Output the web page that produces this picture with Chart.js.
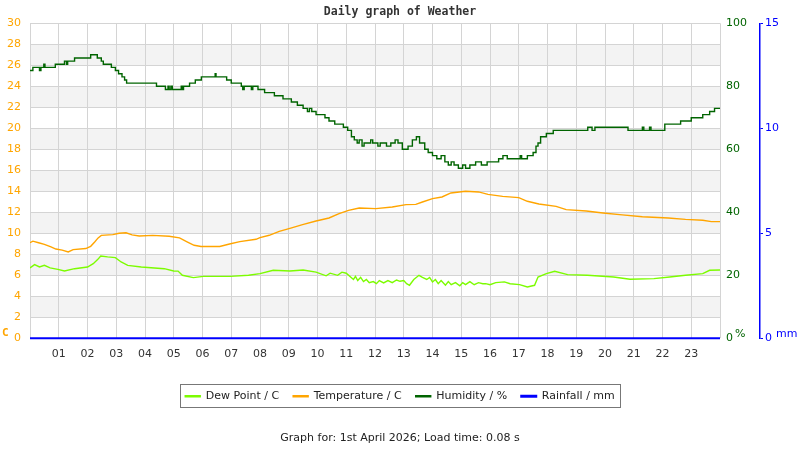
<!DOCTYPE html>
<html>
<head>
<meta charset="utf-8">
<script src="https://cdn.jsdelivr.net/npm/chart.js@4.4.1/dist/chart.umd.min.js"></script>
<style>
html, body { margin: 0; padding: 0; background: #fff; }
</style>
</head>
<body>
<canvas id="myChart" width="800" height="450"></canvas>
<script>
// readings, hours since midnight
var hum_hours = [0.00, 0.10, 0.33, 0.38, 0.48, 0.52, 0.88, 1.20, 1.27, 1.31, 1.55, 2.11, 2.34, 2.48, 2.55, 2.83, 2.97, 3.08, 3.20, 3.29, 3.36, 4.40, 4.71, 4.80, 4.84, 4.90, 4.95, 5.26, 5.30, 5.34, 5.55, 5.75, 5.96, 6.44, 6.47, 6.84, 7.00, 7.35, 7.40, 7.45, 7.70, 7.75, 7.93, 8.16, 8.50, 8.80, 9.09, 9.30, 9.50, 9.65, 9.72, 9.80, 9.95, 10.26, 10.40, 10.60, 10.90, 11.05, 11.18, 11.28, 11.38, 11.45, 11.55, 11.62, 11.85, 11.92, 12.10, 12.18, 12.40, 12.55, 12.70, 12.80, 12.95, 13.15, 13.30, 13.44, 13.55, 13.73, 13.85, 14.00, 14.15, 14.30, 14.43, 14.55, 14.65, 14.75, 14.90, 15.05, 15.15, 15.30, 15.50, 15.70, 15.90, 16.30, 16.45, 16.60, 17.05, 17.10, 17.30, 17.50, 17.60, 17.67, 17.76, 17.96, 18.20, 19.40, 19.55, 19.65, 20.80, 21.30, 21.35, 21.55, 21.60, 22.08, 22.63, 23.00, 23.40, 23.64, 23.81, 24.00];
var hum_values = [85, 86, 85, 86, 87, 86, 87, 88, 87, 88, 89, 90, 89, 88, 87, 86, 85, 84, 83, 82, 81, 80, 79, 80, 79, 80, 79, 80, 79, 80, 81, 82, 83, 84, 83, 82, 81, 80, 79, 80, 79, 80, 79, 78, 77, 76, 75, 74, 73, 72, 73, 72, 71, 70, 69, 68, 67, 66, 64, 63, 62, 63, 61, 62, 63, 62, 61, 62, 61, 62, 63, 62, 60, 61, 63, 64, 62, 60, 59, 58, 57, 58, 56, 55, 56, 55, 54, 55, 54, 55, 56, 55, 56, 57, 58, 57, 58, 57, 58, 59, 61, 62, 64, 65, 66, 67, 66, 67, 66, 67, 66, 67, 66, 68, 69, 70, 71, 72, 73, 73];

var temp_hours = [0.00, 0.10, 0.30, 0.50, 0.73, 0.90, 1.12, 1.33, 1.50, 1.94, 2.11, 2.25, 2.37, 2.48, 2.88, 3.10, 3.34, 3.55, 3.80, 4.27, 4.84, 5.20, 5.48, 5.71, 5.95, 6.60, 6.94, 7.30, 7.86, 8.00, 8.32, 8.67, 9.07, 9.48, 9.95, 10.40, 10.75, 11.08, 11.45, 12.03, 12.60, 13.08, 13.42, 13.65, 14.00, 14.33, 14.64, 15.15, 15.60, 15.93, 16.44, 17.00, 17.30, 17.70, 18.30, 18.65, 19.35, 19.93, 20.60, 21.30, 22.20, 22.80, 23.40, 23.70, 24.00];
var temp_values = [9.1, 9.25, 9.1, 8.95, 8.7, 8.5, 8.4, 8.22, 8.45, 8.55, 8.76, 9.17, 9.56, 9.8, 9.87, 10.0, 10.05, 9.85, 9.75, 9.8, 9.72, 9.56, 9.17, 8.86, 8.75, 8.75, 8.98, 9.21, 9.43, 9.59, 9.81, 10.19, 10.5, 10.83, 11.17, 11.46, 11.87, 12.19, 12.41, 12.35, 12.51, 12.73, 12.75, 12.98, 13.3, 13.46, 13.84, 14.0, 13.94, 13.71, 13.52, 13.4, 13.05, 12.79, 12.57, 12.25, 12.13, 11.94, 11.75, 11.58, 11.46, 11.33, 11.24, 11.11, 11.11];

var dew_hours = [0.00, 0.16, 0.33, 0.50, 0.70, 0.97, 1.20, 1.55, 2.00, 2.20, 2.36, 2.46, 2.70, 2.97, 3.17, 3.40, 3.87, 4.67, 5.00, 5.15, 5.30, 5.68, 6.03, 6.96, 7.60, 8.00, 8.46, 9.04, 9.50, 9.95, 10.30, 10.44, 10.70, 10.85, 11.00, 11.25, 11.32, 11.40, 11.50, 11.60, 11.70, 11.80, 11.94, 12.05, 12.15, 12.30, 12.45, 12.60, 12.75, 12.87, 13.00, 13.10, 13.20, 13.35, 13.53, 13.65, 13.80, 13.90, 14.00, 14.10, 14.20, 14.30, 14.45, 14.55, 14.65, 14.80, 14.95, 15.05, 15.15, 15.30, 15.45, 15.60, 15.75, 15.85, 16.00, 16.20, 16.50, 16.70, 17.03, 17.30, 17.55, 17.67, 17.96, 18.25, 18.70, 19.39, 20.30, 20.87, 21.70, 22.25, 22.80, 23.40, 23.64, 24.00];
var dew_values = [6.7, 7.02, 6.8, 6.95, 6.7, 6.57, 6.41, 6.63, 6.79, 7.11, 7.52, 7.84, 7.75, 7.68, 7.27, 6.95, 6.79, 6.63, 6.41, 6.4, 6.0, 5.78, 5.9, 5.9, 6.0, 6.16, 6.48, 6.41, 6.5, 6.3, 5.95, 6.2, 6.0, 6.3, 6.2, 5.6, 5.9, 5.5, 5.8, 5.4, 5.6, 5.3, 5.4, 5.2, 5.5, 5.27, 5.5, 5.3, 5.55, 5.43, 5.5, 5.2, 5.05, 5.6, 6.0, 5.8, 5.6, 5.8, 5.37, 5.6, 5.2, 5.5, 5.05, 5.4, 5.1, 5.3, 5.0, 5.3, 5.11, 5.4, 5.1, 5.3, 5.2, 5.21, 5.1, 5.3, 5.37, 5.2, 5.11, 4.89, 5.05, 5.84, 6.16, 6.38, 6.06, 6.0, 5.84, 5.62, 5.68, 5.84, 6.0, 6.16, 6.48, 6.5];

var rain_hours = [0, 24];
var rain_values = [0, 0];

var hour_labels = ['01', '02', '03', '04', '05', '06', '07', '08', '09', '10', '11', '12', '13', '14', '15', '16', '17', '18', '19', '20', '21', '22', '23'];

function pts(hours, values) {
    var out = [];
    for (let i = 0; i < hours.length; i++) {
        out.push({ x: hours[i], y: values[i] });
    }
    return out;
}

var axis_font = { family: 'DejaVu Sans', size: 11 };

// grey band every other row of the left axis
var bands = {
    id: 'bands',
    beforeDraw(chart) {
        const ctx = chart.ctx, a = chart.chartArea, y = chart.scales.y;
        ctx.save();
        ctx.fillStyle = '#fff';
        ctx.fillRect(0, 0, chart.width, chart.height);
        ctx.fillStyle = '#f3f3f3';
        y.ticks.forEach(function (t) {
            if (t.value % 4 === 2 && t.value + 2 <= y.max) {
                const p0 = y.getPixelForValue(t.value);
                const p1 = y.getPixelForValue(t.value + 2);
                ctx.fillRect(a.left, p1, a.right - a.left, p0 - p1);
            }
        });
        ctx.restore();
    }
};

// unit labels + box round the legend
var extras = {
    id: 'extras',
    afterDraw(chart) {
        const ctx = chart.ctx, s = chart.scales;
        ctx.save();
        ctx.textBaseline = 'middle';
        ctx.textAlign = 'left';
        ctx.font = 'bold 11px "DejaVu Sans Mono"';
        ctx.fillStyle = '#ffa500';
        ctx.fillText('C', s.y.left + 2, s.y.bottom - 5);
        ctx.font = '11px "DejaVu Sans"';
        ctx.fillStyle = '#006400';
        ctx.fillText('%', s.y1.left + 15, s.y1.bottom - 4);
        ctx.fillStyle = '#0000ff';
        ctx.fillText('mm', s.y2.left + 16, s.y2.bottom - 4);

        const hb = chart.legend.legendHitBoxes;
        if (hb && hb.length) {
            const last = hb[hb.length - 1];
            const l = hb[0].left - 5, r = last.left + last.width + 5;
            const t = hb[0].top - 7, b = hb[0].top + hb[0].height + 5;
            ctx.strokeStyle = '#777';
            ctx.lineWidth = 1;
            ctx.strokeRect(Math.round(l) + 0.5, Math.round(t) + 0.5, Math.round(r - l), Math.round(b - t));
        }
        ctx.restore();
    }
};

var ctx = document.getElementById('myChart');
var chart = new Chart(ctx, {
    type: 'line',
    data: {
        datasets: [
            {
                label: 'Dew Point / C',
                data: pts(dew_hours, dew_values),
                borderColor: '#7cfc00',
                backgroundColor: '#7cfc00',
                borderWidth: 1.4,
                pointRadius: 0,
                yAxisID: 'y'
            },
            {
                label: 'Temperature / C',
                data: pts(temp_hours, temp_values),
                borderColor: '#ffa500',
                backgroundColor: '#ffa500',
                borderWidth: 1.4,
                pointRadius: 0,
                yAxisID: 'y'
            },
            {
                label: 'Humidity / %',
                data: pts(hum_hours, hum_values),
                borderColor: '#006400',
                backgroundColor: '#006400',
                borderWidth: 1.4,
                pointRadius: 0,
                stepped: true,
                yAxisID: 'y1'
            },
            {
                label: 'Rainfall / mm',
                data: pts(rain_hours, rain_values),
                borderColor: '#0000ff',
                backgroundColor: '#0000ff',
                borderWidth: 2,
                pointRadius: 0,
                clip: false,
                yAxisID: 'y2'
            }
        ]
    },
    options: {
        responsive: false,
        animation: false,
        layout: { padding: 0 },
        scales: {
            x: {
                type: 'linear',
                min: 0,
                max: 24,
                ticks: {
                    stepSize: 1,
                    autoSkip: false,
                    maxRotation: 0,
                    padding: 9,
                    color: '#333',
                    font: axis_font,
                    callback: function (v) { return hour_labels[v - 1] || ''; }
                },
                grid: { color: '#d4d4d4', drawTicks: false },
                border: { display: false },
                afterFit: function (s) { s.height = 38.5; }
            },
            y: {
                position: 'left',
                min: 0,
                max: 30,
                ticks: { stepSize: 2, color: '#ffa500', padding: 9, font: axis_font },
                grid: { color: '#d4d4d4', drawTicks: false },
                border: { display: false },
                afterFit: function (s) { s.width = 30; }
            },
            y1: {
                position: 'right',
                weight: 0,
                min: 0,
                max: 100,
                ticks: { stepSize: 20, color: '#006400', padding: 6, font: axis_font },
                grid: { drawOnChartArea: false, drawTicks: false },
                border: { display: false },
                afterFit: function (s) { s.width = 40; }
            },
            y2: {
                position: 'right',
                weight: 1,
                min: 0,
                max: 15,
                ticks: { stepSize: 5, color: '#0000ff', padding: 2, font: axis_font },
                grid: { drawOnChartArea: false, color: '#0000ff', tickLength: 3 },
                border: { display: true, color: '#0000ff', width: 1.5 },
                afterFit: function (s) { s.width = 40; }
            }
        },
        plugins: {
            title: {
                display: true,
                text: 'Daily graph of Weather',
                color: '#333',
                font: { family: 'DejaVu Sans Mono', size: 11.5, weight: 'bold' },
                padding: { top: 5, bottom: 4.5 }
            },
            subtitle: {
                display: true,
                position: 'bottom',
                text: 'Graph for: 1st April 2026; Load time: 0.08 s',
                color: '#222',
                font: { family: 'DejaVu Sans', size: 11 },
                padding: { top: 20, bottom: 5 }
            },
            legend: {
                position: 'bottom',
                labels: {
                    boxWidth: 15,
                    boxHeight: 1,
                    padding: 14,
                    color: '#222',
                    font: { family: 'DejaVu Sans', size: 11 }
                }
            },
            tooltip: { enabled: false }
        }
    },
    plugins: [bands, extras]
});
</script>
</body>
</html>
